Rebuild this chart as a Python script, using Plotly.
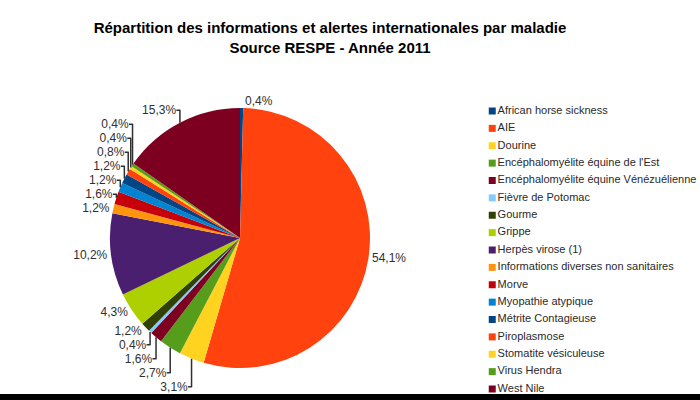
import plotly.graph_objects as go

categories = [
    "African horse sickness", "AIE", "Dourine", "Encéphalomyélite équine de l'Est",
    "Encéphalomyélite équine Vénézuélienne", "Fièvre de Potomac", "Gourme", "Grippe",
    "Herpès virose (1)", "Informations diverses non sanitaires", "Morve",
    "Myopathie atypique", "Métrite Contagieuse", "Piroplasmose",
    "Stomatite vésiculeuse", "Virus Hendra", "West Nile",
]
counts = [1, 138, 8, 7, 4, 1, 3, 11, 26, 3, 4, 3, 3, 2, 1, 1, 39]
colors = [
    "#004586", "#ff420e", "#ffd320", "#579d1c", "#7e0021", "#83caff", "#314004",
    "#aecf00", "#4b1f6f", "#ff950e", "#c5000b", "#0084d1", "#004586", "#ff420e",
    "#ffd320", "#579d1c", "#7e0021",
]
title_lines = ["Répartition des informations et alertes internationales par maladie",
               "Source RESPE - Année 2011"]

W, H = 700, 400
FONT = "Liberation Sans, Arial, sans-serif"

fig = go.Figure()

fig.add_trace(go.Pie(
    labels=categories,
    values=counts,
    marker=dict(colors=colors, line=dict(width=0)),
    sort=False,
    direction="clockwise",
    rotation=0,
    textposition="outside",
    texttemplate="%{percent:.1%}",
    textfont=dict(family=FONT, size=12, color="#303030"),
    domain=dict(x=[110 / W, 370 / W], y=[32 / H, 292 / H]),
    showlegend=False,
    hoverinfo="label+percent",
))

# Legend drawn as a marker column on a hidden axis
idx = list(range(len(categories)))
fig.add_trace(go.Scatter(
    x=[0] * len(categories),
    y=idx,
    mode="markers+text",
    marker=dict(symbol="square", size=7, color=colors, line=dict(width=0)),
    text=categories,
    textposition="middle right",
    textfont=dict(family=FONT, size=11, color="#2a2a2a"),
    showlegend=False,
    hoverinfo="skip",
    cliponaxis=False,
    xaxis="x", yaxis="y",
))

row_top, row_step = 111, 17.375
fig.update_layout(
    width=W, height=H,
    margin=dict(l=0, r=0, t=0, b=0),
    paper_bgcolor="white",
    plot_bgcolor="rgba(0,0,0,0)",
    separators=", ",
    title=dict(
        text="<br>".join(title_lines),
        font=dict(family=FONT, size=15, color="black", weight="bold"),
        x=330 / W, xanchor="center",
        y=1 - 33 / H, yanchor="middle",
        xref="paper", yref="container",
    ),
    xaxis=dict(domain=[491.5 / W - 0.001, 1], range=[-0.001 * W / 10, 10],
               visible=False, fixedrange=True),
    yaxis=dict(domain=[0, 1],
               range=[-row_top / row_step + H / row_step, -row_top / row_step],
               visible=False, fixedrange=True),
    shapes=[dict(type="rect", xref="paper", yref="paper", x0=0, x1=1,
                 y0=0, y1=6 / H, fillcolor="black", line=dict(width=0),
                 layer="above")],
)

fig.write_html("out.html",
               config={"displayModeBar": False},
               post_script="document.body.style.margin='0';document.body.style.overflow='hidden';")
